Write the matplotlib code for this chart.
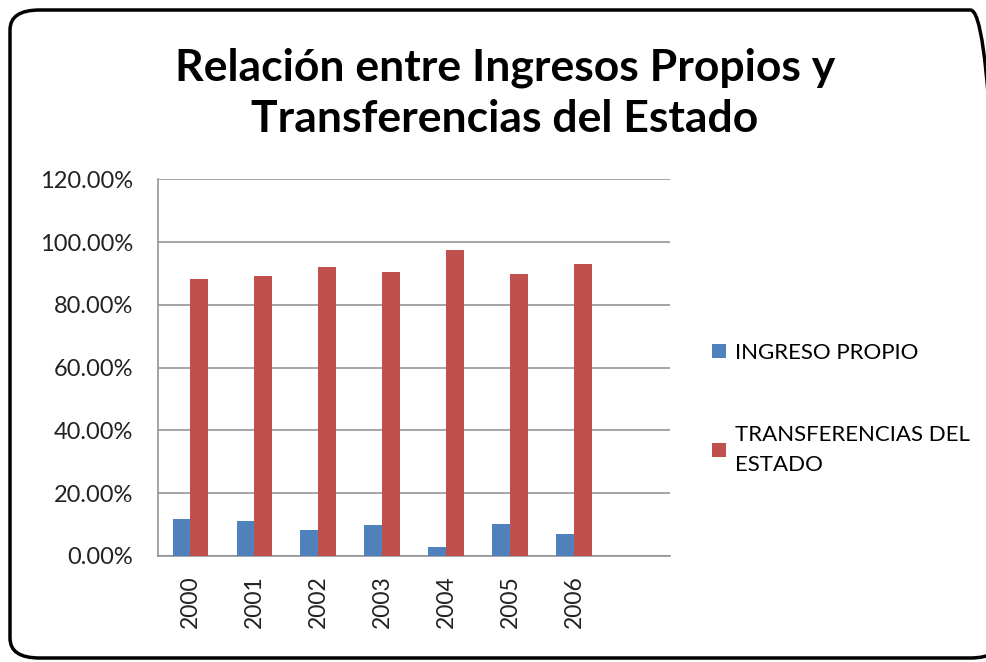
import matplotlib
matplotlib.use("Agg")
import matplotlib.pyplot as plt
import matplotlib.ticker as ticker
from matplotlib.patches import FancyBboxPatch
import numpy as np

years = ["2000", "2001", "2002", "2003", "2004", "2005", "2006"]
ingreso_propio = [11.8, 11.0, 8.2, 9.8, 2.8, 10.3, 7.0]
transferencias = [88.3, 89.1, 92.0, 90.4, 97.4, 89.9, 93.1]
yticks = [0, 20, 40, 60, 80, 100, 120]

BLUE = "#4F81BD"
RED = "#C0504D"
GRID = "#8C8C8C"
FONT = ["Lato", "DejaVu Sans"]

plt.rcParams["font.family"] = FONT

fig = plt.figure(figsize=(9.86, 6.62), dpi=100)

# rounded outer frame (right edge runs off the picture)
frame = FancyBboxPatch((10 / 986, 4 / 662), 990 / 986, 648 / 662,
                       boxstyle="round,pad=0,rounding_size=0.03",
                       transform=fig.transFigure, fill=False,
                       edgecolor="black", linewidth=2.5, clip_on=False)
fig.patches.append(frame)

ax = fig.add_axes([158.3 / 986, 1 - 556 / 662, 511.7 / 986, (556 - 179.3) / 662])

x = np.arange(len(years))
w = 0.277
ax.bar(x - w / 2, ingreso_propio, width=w, color=BLUE, label="INGRESO PROPIO", zorder=3)
ax.bar(x + w / 2, transferencias, width=w, color=RED,
       label="TRANSFERENCIAS DEL\nESTADO", zorder=3)

ax.set_xlim(-0.5, len(years) + 0.5)   # one empty slot after 2006
ax.set_ylim(0, 120)
ax.set_yticks(yticks)
ax.yaxis.set_major_formatter(ticker.FuncFormatter(lambda v, p: f"{v:.2f}%"))
ax.set_xticks(x)
ax.set_xticklabels(years, rotation=90)
ax.tick_params(axis="y", length=0, labelsize=17, colors="#222222", pad=18)
ax.tick_params(axis="x", length=0, labelsize=16.5, colors="#222222", pad=14)
ax.grid(axis="y", color=GRID, linewidth=1.1, zorder=0)
for s in ("top", "right"):
    ax.spines[s].set_visible(False)
for s in ("left", "bottom"):
    ax.spines[s].set_color(GRID)
    ax.spines[s].set_linewidth(1.1)

fig.text(505 / 986, 1 - 68 / 662, "Relación entre Ingresos Propios y",
         ha="center", va="center", fontsize=32, fontweight="bold")
fig.text(505 / 986, 1 - 119 / 662, "Transferencias del Estado",
         ha="center", va="center", fontsize=32, fontweight="bold")

leg = ax.legend(loc="upper left", bbox_to_anchor=(692 / 986, 1 - 323 / 662),
                bbox_transform=fig.transFigure, frameon=False, fontsize=16,
                handlelength=0.63, handleheight=0.63, handletextpad=0.4,
                labelspacing=2.8)
for t in leg.get_texts():
    t.set_linespacing(1.6)

fig.savefig("out.png", dpi=100)
